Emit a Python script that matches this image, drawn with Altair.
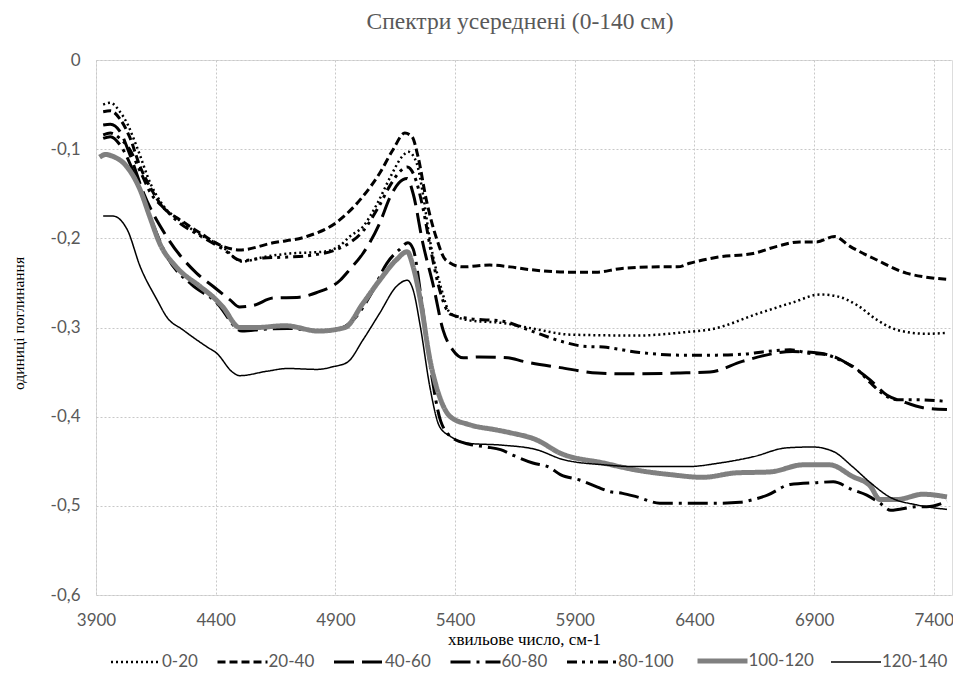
import altair as alt
import pandas as pd

series_names = ["0-20", "20-40", "40-60", "60-80", "80-100", "100-120", "120-140"]

x_0_20 = [3930, 3960, 4000, 4030, 4070, 4130, 4180, 4250, 4330, 4430, 4510, 4600, 4710, 4850, 4920, 4960, 5015, 5075, 5130, 5180, 5205, 5240, 5265, 5295, 5340, 5380, 5460, 5600, 5740, 5880, 6160, 6370, 6470, 6670, 6810, 6925, 6995, 7080, 7160, 7250, 7370, 7455]
y_0_20 = [-0.050, -0.048, -0.058, -0.071, -0.097, -0.140, -0.163, -0.180, -0.195, -0.210, -0.226, -0.221, -0.217, -0.215, -0.208, -0.198, -0.187, -0.161, -0.131, -0.108, -0.103, -0.116, -0.149, -0.202, -0.254, -0.284, -0.292, -0.295, -0.302, -0.308, -0.309, -0.305, -0.302, -0.284, -0.272, -0.263, -0.265, -0.275, -0.291, -0.303, -0.307, -0.306]

x_20_40 = [3930, 3960, 4000, 4040, 4085, 4125, 4180, 4250, 4335, 4430, 4500, 4640, 4780, 4900, 5015, 5085, 5140, 5190, 5220, 5245, 5280, 5325, 5360, 5430, 5545, 5630, 5710, 5890, 5990, 6090, 6255, 6330, 6380, 6500, 6645, 6745, 6840, 6910, 6985, 7050, 7160, 7285, 7355, 7455]
y_20_40 = [-0.058, -0.057, -0.066, -0.086, -0.120, -0.142, -0.165, -0.179, -0.194, -0.209, -0.213, -0.205, -0.198, -0.183, -0.153, -0.127, -0.101, -0.082, -0.086, -0.108, -0.157, -0.202, -0.224, -0.232, -0.230, -0.232, -0.235, -0.238, -0.238, -0.234, -0.232, -0.232, -0.228, -0.221, -0.217, -0.209, -0.204, -0.204, -0.198, -0.209, -0.224, -0.239, -0.243, -0.246]

x_40_60 = [3930, 3960, 4000, 4040, 4100, 4195, 4320, 4390, 4460, 4500, 4560, 4640, 4750, 4820, 4920, 4960, 5015, 5085, 5130, 5165, 5200, 5225, 5265, 5310, 5350, 5390, 5435, 5500, 5620, 5685, 5840, 5995, 6130, 6340, 6465, 6600, 6810, 6925, 6995, 7060, 7135, 7205, 7270, 7355, 7455]
y_40_60 = [-0.073, -0.072, -0.080, -0.105, -0.150, -0.198, -0.239, -0.254, -0.269, -0.277, -0.275, -0.267, -0.266, -0.261, -0.247, -0.235, -0.217, -0.183, -0.153, -0.138, -0.133, -0.150, -0.205, -0.254, -0.303, -0.325, -0.334, -0.333, -0.334, -0.338, -0.345, -0.351, -0.352, -0.351, -0.350, -0.338, -0.327, -0.329, -0.334, -0.344, -0.359, -0.376, -0.383, -0.390, -0.392]

x_60_80 = [3930, 3960, 4000, 4040, 4085, 4125, 4200, 4300, 4400, 4510, 4600, 4700, 4830, 4920, 4980, 5050, 5115, 5170, 5203, 5225, 5260, 5300, 5340, 5390, 5460, 5530, 5590, 5640, 5725, 5795, 5840, 5920, 5995, 6045, 6100, 6160, 6255, 6380, 6505, 6590, 6645, 6705, 6800, 6910, 6980, 7060, 7120, 7175, 7220, 7330, 7370, 7455]
y_60_80 = [-0.088, -0.086, -0.095, -0.115, -0.146, -0.175, -0.222, -0.252, -0.271, -0.304, -0.302, -0.301, -0.304, -0.301, -0.290, -0.262, -0.228, -0.212, -0.205, -0.212, -0.270, -0.350, -0.405, -0.424, -0.431, -0.434, -0.437, -0.443, -0.452, -0.457, -0.465, -0.471, -0.479, -0.484, -0.486, -0.490, -0.497, -0.497, -0.497, -0.496, -0.493, -0.488, -0.476, -0.474, -0.473, -0.482, -0.488, -0.497, -0.505, -0.501, -0.501, -0.495]

x_80_100 = [3930, 3960, 4000, 4040, 4085, 4130, 4180, 4250, 4335, 4430, 4510, 4600, 4700, 4800, 4900, 4960, 5015, 5080, 5130, 5170, 5200, 5230, 5265, 5300, 5340, 5380, 5460, 5600, 5710, 5850, 5935, 6020, 6170, 6340, 6480, 6600, 6700, 6800, 6880, 6940, 7020, 7080, 7135, 7185, 7245, 7330, 7455]
y_80_100 = [-0.084, -0.082, -0.088, -0.100, -0.125, -0.150, -0.165, -0.183, -0.197, -0.212, -0.225, -0.222, -0.221, -0.219, -0.213, -0.205, -0.192, -0.165, -0.140, -0.125, -0.120, -0.130, -0.165, -0.215, -0.262, -0.285, -0.290, -0.293, -0.303, -0.316, -0.321, -0.322, -0.328, -0.331, -0.331, -0.330, -0.327, -0.325, -0.329, -0.330, -0.338, -0.347, -0.362, -0.374, -0.381, -0.381, -0.383]

x_100_120 = [3915, 3940, 3970, 4030, 4085, 4125, 4165, 4235, 4335, 4390, 4430, 4500, 4570, 4690, 4830, 4940, 5015, 5085, 5155, 5200, 5225, 5255, 5295, 5340, 5380, 5460, 5575, 5630, 5740, 5840, 6020, 6160, 6300, 6435, 6575, 6715, 6855, 6965, 7060, 7135, 7175, 7245, 7355, 7455]
y_100_120 = [-0.109, -0.106, -0.108, -0.120, -0.146, -0.176, -0.205, -0.232, -0.254, -0.266, -0.277, -0.300, -0.300, -0.298, -0.304, -0.300, -0.273, -0.247, -0.224, -0.215, -0.232, -0.269, -0.336, -0.381, -0.400, -0.409, -0.415, -0.418, -0.426, -0.441, -0.452, -0.460, -0.465, -0.468, -0.463, -0.462, -0.454, -0.454, -0.467, -0.478, -0.493, -0.493, -0.487, -0.490]

x_120_140 = [3930, 3970, 4030, 4085, 4155, 4195, 4265, 4365, 4405, 4470, 4500, 4615, 4700, 4825, 4890, 4950, 5015, 5085, 5155, 5200, 5225, 5255, 5295, 5335, 5380, 5460, 5600, 5740, 5850, 6020, 6160, 6370, 6505, 6645, 6785, 6895, 6980, 7060, 7135, 7215, 7330, 7455]
y_120_140 = [-0.175, -0.175, -0.190, -0.232, -0.269, -0.288, -0.303, -0.322, -0.329, -0.350, -0.354, -0.349, -0.346, -0.347, -0.344, -0.339, -0.314, -0.284, -0.254, -0.247, -0.258, -0.299, -0.367, -0.411, -0.422, -0.430, -0.432, -0.437, -0.448, -0.454, -0.456, -0.456, -0.452, -0.445, -0.435, -0.434, -0.439, -0.456, -0.474, -0.490, -0.499, -0.504]

x_ticks = [3900, 4400, 4900, 5400, 5900, 6400, 6900, 7400]
y_ticks = [-0.6, -0.5, -0.4, -0.3, -0.2, -0.1, 0]

all_x = [x_0_20, x_20_40, x_40_60, x_60_80, x_80_100, x_100_120, x_120_140]
all_y = [y_0_20, y_20_40, y_40_60, y_60_80, y_80_100, y_100_120, y_120_140]

colors = ["#000000", "#000000", "#000000", "#000000", "#000000", "#808080", "#000000"]
dashes = [[2, 3], [8, 4], [20, 8], [20, 6, 3, 6], [10, 5, 3, 5, 3, 5], [1, 0], [1, 0]]
widths = [2.5, 3, 3, 3, 3, 5, 1.5]

rows = []
for name, xs, ys, w in zip(series_names, all_x, all_y, widths):
    for i, (xv, yv) in enumerate(zip(xs, ys)):
        rows.append({"series": name, "x": xv, "y": yv, "order": i, "w": w})
df = pd.DataFrame(rows)

width_expr = "(" + " : ".join(
    f"datum.value == '{n}' ? {w}" for n, w in zip(series_names, widths)
) + " : 2)"

SERIF = "Liberation Serif"
SANS = "Lato"
GREY = "#595959"

legend = alt.Legend(title=None, orient="none", direction="horizontal",
                    columns=7, legendX=14, legendY=575,
                    symbolType="stroke", symbolSize=2500,
                    symbolStrokeWidth={"expr": width_expr},
                    labelFont=SANS, labelFontSize=17, labelColor=GREY,
                    labelOffset=0, columnPadding=13.5)

chart = alt.Chart(df).mark_line(interpolate="monotone", strokeCap="butt", strokeJoin="round").encode(
    x=alt.X("x:Q",
            scale=alt.Scale(domain=[3900, 7476], nice=False, zero=False),
            axis=alt.Axis(values=x_ticks, format="d", title="хвильове число, см-1",
                          labelFont=SANS, labelFontSize=17, labelColor=GREY,
                          labelPadding=17, labelFlush=False, ticks=False, domain=False,
                          gridColor="#c8c8c8", gridDash=[2, 2], gridWidth=1,
                          titleFont=SERIF, titleFontSize=17, titleFontWeight="normal",
                          titleColor="#000000", titleY=44, titleBaseline="middle")),
    y=alt.Y("y:Q",
            scale=alt.Scale(domain=[-0.6, 0], nice=False, zero=False),
            axis=alt.Axis(values=y_ticks, title="одиниці поглинання",
                          labelExpr="datum.value == 0 ? '0' : '-0,' + round(abs(datum.value) * 10)",
                          labelFont=SANS, labelFontSize=17, labelColor=GREY,
                          labelPadding=16, labelFlush=False, ticks=False, domain=False,
                          gridColor="#c8c8c8", gridDash=[2, 2], gridWidth=1,
                          titleFont=SERIF, titleFontSize=15.5, titleFontWeight="normal",
                          titleColor="#000000", titleX=-78, titleY=263,
                          titleAngle=-90, titleAlign="center", titleBaseline="middle")),
    color=alt.Color("series:N", scale=alt.Scale(domain=series_names, range=colors), legend=legend),
    strokeDash=alt.StrokeDash("series:N", scale=alt.Scale(domain=series_names, range=dashes), legend=legend),
    strokeWidth=alt.StrokeWidth("w:Q", scale=None, legend=None),
    order="order:Q",
    detail="series:N",
).properties(
    width=856,
    height=535,
    autosize=alt.AutoSizeParams(type="none"),
    padding={"left": 96, "top": 60, "right": 1, "bottom": 81},
    title=alt.TitleParams("Спектри усереднені (0-140 см)", font=SERIF, fontSize=23.5,
                          fontWeight="normal", color=GREY, anchor="middle",
                          baseline="alphabetic", offset=28, dx=-4, dy=29),
).configure_view(stroke=None).configure(background="white")

chart.save("out.html", embed_options={"renderer": "svg", "actions": False})
